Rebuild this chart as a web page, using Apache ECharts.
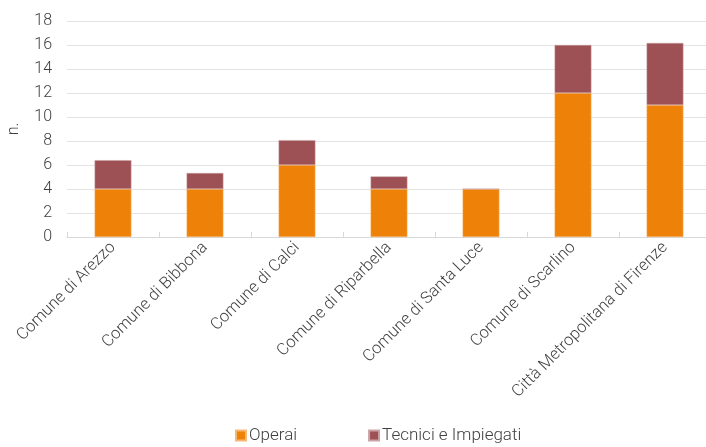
<!DOCTYPE html>
<html>
<head>
<meta charset="utf-8">
<script src="https://cdn.jsdelivr.net/npm/echarts@6/dist/echarts.min.js"></script>
<style>
html,body{margin:0;padding:0;background:#fff;}
#chart{width:706px;height:447px;}
</style>
</head>
<body>
<div id="chart"></div>
<script>
const categories = ["Comune di Arezzo","Comune di Bibbona","Comune di Calci","Comune di Riparbella","Comune di Santa Luce","Comune di Scarlino","Città Metropolitana di Firenze"];
const operai = [4, 4, 6, 4, 4, 12, 11];
const tecnici = [2.4, 1.33, 2.07, 1.05, 0, 4, 5.17];
const yTicks = {min: 0, max: 18, interval: 2};

const chart = echarts.init(document.getElementById('chart'));
const font = 'Roboto, "Noto Sans", sans-serif';
chart.setOption({
  animation: false,
  textStyle: {fontFamily: font},
  grid: {left: 67, right: -5, top: 21, bottom: 210, containLabel: false, outerBoundsMode: 'none'},
  legend: {
    bottom: 3, left: 235, padding: 0,
    itemWidth: 10, itemHeight: 10, itemGap: 71,
    icon: 'rect',
    textStyle: {fontSize: 17, fontWeight: 300, color: '#404040', fontFamily: font, padding: [0,0,0,-2]},
    data: ['Operai', 'Tecnici e Impiegati']
  },
  xAxis: {
    type: 'category',
    data: categories,
    axisLine: {lineStyle: {color: '#d9d9d9', width: 1}},
    axisTick: {show: true, inside: true, length: 5, lineStyle: {color: '#d9d9d9'}},
    axisLabel: {rotate: 45, fontSize: 16.5, fontWeight: 300, color: '#404040', margin: 8, interval: 0, fontFamily: font}
  },
  yAxis: {
    type: 'value',
    min: yTicks.min, max: yTicks.max, interval: yTicks.interval,
    name: 'n.', nameLocation: 'middle', nameGap: 45, nameRotate: 90,
    nameTextStyle: {fontSize: 16, fontWeight: 300, color: '#404040', fontFamily: font},
    axisLine: {show: false},
    axisTick: {show: false},
    axisLabel: {fontSize: 16, fontWeight: 300, color: '#404040', margin: 15, fontFamily: font},
    splitLine: {lineStyle: {color: '#e3e3e3', width: 1}}
  },
  series: [
    {name: 'Operai', type: 'bar', stack: 'a', data: operai, barWidth: '40%',
     itemStyle: {color: '#EE8208', borderColor: '#f5b878', borderWidth: 0.5}},
    {name: 'Tecnici e Impiegati', type: 'bar', stack: 'a', data: tecnici, barWidth: '40%',
     itemStyle: {color: '#9E5155', borderColor: '#c9a3a5', borderWidth: 0.5}}
  ]
});
</script>
</body>
</html>
